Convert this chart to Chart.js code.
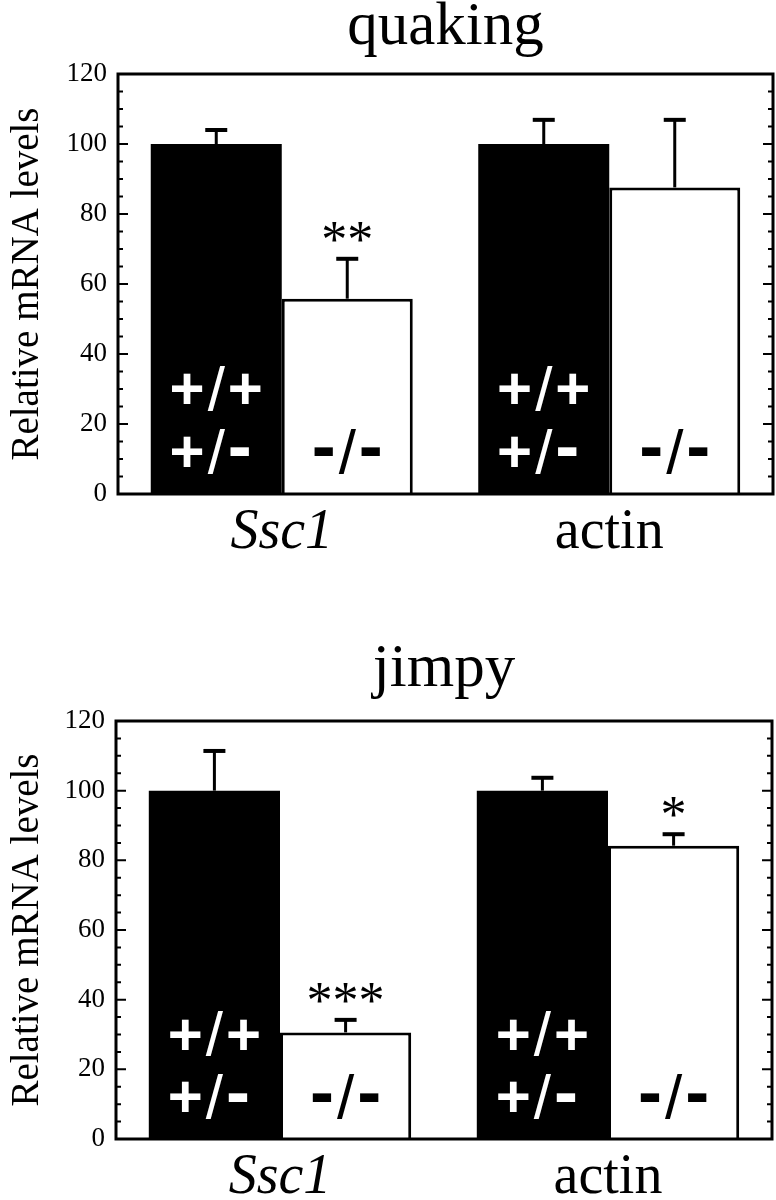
<!DOCTYPE html>
<html>
<head>
<meta charset="utf-8">
<script src="https://cdn.jsdelivr.net/npm/chart.js@4.4.1/dist/chart.umd.min.js"></script>
<style>
  html, body { margin: 0; padding: 0; background: #fff; }
  .panel { position: absolute; left: 0; width: 776px; height: 600px; }
</style>
</head>
<body>
<div class="panel" style="top:0"><canvas id="quaking" width="776" height="600"></canvas></div>
<div class="panel" style="top:600px"><canvas id="jimpy" width="776" height="600"></canvas></div>
<script>
const categories = ['Ssc1', 'actin'];

// quaking panel
const quakingWT = [100, 100];
const quakingWTErr = [4.0, 6.9];
const quakingKO = [55.8, 87.6];
const quakingKOErr = [11.4, 19.3];
const quakingStars = ['**', ''];

// jimpy panel
const jimpyWT = [100, 100];
const jimpyWTErr = [11.4, 3.7];
const jimpyKO = [30.6, 84.2];
const jimpyKOErr = [3.6, 3.3];
const jimpyStars = ['***', '*'];

const wtGenotypes = ['+/+', '+/-'];
const koGenotypes = ['-/-'];

const yMin = 0, yMax = 120, yStep = 20, yMinorStep = 5;

const serif = '"Liberation Serif", "Times New Roman", serif';
const sans = '"Liberation Sans", Arial, sans-serif';

// "+/-" style text: bold signs, thin slash, chunky dash
function glyphFont(ch) {
  if (ch === '/') return '62px ' + sans;
  if (ch === '-') return 'bold 72px ' + sans;
  return 'bold 60px ' + sans;
}
function genotypeWidth(ctx, text) {
  let w = 0;
  for (const ch of text) {
    ctx.font = glyphFont(ch);
    w += ctx.measureText(ch).width + 3;
  }
  return w - 3;
}
function drawGenotype(ctx, text, x, yMid, color) {
  ctx.fillStyle = color;
  ctx.textAlign = 'left';
  ctx.textBaseline = 'middle';
  for (const ch of text) {
    ctx.font = glyphFont(ch);
    const dy = ch === '-' ? -5 : 0;
    ctx.fillText(ch, x, yMid + dy);
    x += ctx.measureText(ch).width + 3;
  }
}

const figurePlugin = {
  id: 'figure',
  afterDatasetsDraw(chart, args, opts) {
    const ctx = chart.ctx;
    const y = chart.scales.y;
    ctx.save();
    ctx.strokeStyle = '#000';
    // error bars (upper only)
    chart.data.datasets.forEach((ds, i) => {
      chart.getDatasetMeta(i).data.forEach((bar, j) => {
        const top = y.getPixelForValue(ds.data[j] + ds.errors[j]);
        ctx.lineWidth = 3;
        ctx.beginPath(); ctx.moveTo(bar.x, bar.y); ctx.lineTo(bar.x, top); ctx.stroke();
        ctx.lineWidth = 4;
        ctx.beginPath(); ctx.moveTo(bar.x - 11, top); ctx.lineTo(bar.x + 11, top); ctx.stroke();
      });
    });
    // significance stars
    const ko = chart.data.datasets[1];
    ctx.font = '52px ' + serif;
    ctx.textAlign = 'center';
    ctx.textBaseline = 'alphabetic';
    ctx.fillStyle = '#000';
    chart.getDatasetMeta(1).data.forEach((bar, j) => {
      const s = opts.stars[j];
      if (!s) return;
      const top = y.getPixelForValue(ko.data[j] + ko.errors[j]);
      const m = ctx.measureText(s);
      const cy = top - 27;
      ctx.fillText(s, bar.x, cy + (m.actualBoundingBoxAscent - m.actualBoundingBoxDescent) / 2);
    });
    // genotype labels inside the bars
    const row1 = y.getPixelForValue(29), row2 = y.getPixelForValue(11);
    chart.getDatasetMeta(0).data.forEach((bar) => {
      const x0 = bar.x - genotypeWidth(ctx, wtGenotypes[0]) / 2;
      drawGenotype(ctx, wtGenotypes[0], x0, row1, '#fff');
      drawGenotype(ctx, wtGenotypes[1], x0, row2, '#fff');
    });
    chart.getDatasetMeta(1).data.forEach((bar) => {
      const x0 = bar.x - genotypeWidth(ctx, koGenotypes[0]) / 2;
      drawGenotype(ctx, koGenotypes[0], x0, row2, '#000');
    });
    ctx.restore();
  },
  afterDraw(chart) {
    const ctx = chart.ctx;
    const a = chart.chartArea;
    const y = chart.scales.y;
    ctx.save();
    ctx.strokeStyle = '#000';
    ctx.lineWidth = 3;
    ctx.strokeRect(a.left, a.top, a.right - a.left, a.bottom - a.top);
    ctx.lineWidth = 2;
    for (let v = yMin; v <= yMax; v += yMinorStep) {
      const py = y.getPixelForValue(v);
      const len = v % yStep === 0 ? 10 : 5;
      ctx.beginPath();
      ctx.moveTo(a.left, py); ctx.lineTo(a.left + len, py);
      ctx.moveTo(a.right, py); ctx.lineTo(a.right - len, py);
      ctx.stroke();
    }
    ctx.restore();
  }
};

function makeChart(id, title, wt, wtErr, ko, koErr, stars, g) {
  return new Chart(document.getElementById(id), {
    type: 'bar',
    data: {
      labels: categories,
      datasets: [
        { data: wt, errors: wtErr, backgroundColor: '#000', borderWidth: 0 },
        { data: ko, errors: koErr, backgroundColor: '#fff', borderColor: '#000', borderWidth: 3 }
      ]
    },
    options: {
      responsive: false,
      animation: false,
      devicePixelRatio: 1,
      layout: { padding: { left: 0, right: g.right, top: 0, bottom: 0 } },
      datasets: { bar: { categoryPercentage: 0.8, barPercentage: 1.0 } },
      plugins: {
        legend: { display: false },
        tooltip: { enabled: false },
        title: {
          display: true,
          text: title,
          fullSize: false,
          color: '#000',
          font: { family: serif, size: 61, weight: 'normal', lineHeight: 0.8 },
          padding: { top: g.titleTop, bottom: g.titleBottom }
        },
        figure: { stars: stars }
      },
      scales: {
        x: {
          grid: { display: false, drawTicks: false },
          border: { display: false },
          ticks: {
            color: '#000',
            padding: 6,
            font: (c) => ({ family: serif, size: 56, style: c.index === 0 ? 'italic' : 'normal' })
          },
          afterFit: (s) => { s.height = g.xHeight; }
        },
        y: {
          min: yMin,
          max: yMax,
          grid: { display: false, drawTicks: false },
          border: { display: false },
          ticks: { stepSize: yStep, color: '#000', padding: 11, font: { family: serif, size: 27 } },
          title: {
            display: true,
            text: 'Relative mRNA levels',
            color: '#000',
            font: { family: serif, size: 39, lineHeight: 1 },
            padding: { top: 8, bottom: 0 }
          },
          afterFit: (s) => { s.width = g.left; }
        }
      }
    },
    plugins: [figurePlugin]
  });
}

makeChart('quaking', 'quaking', quakingWT, quakingWTErr, quakingKO, quakingKOErr, quakingStars,
  { left: 118, right: 3, xHeight: 106, titleTop: 4, titleBottom: 21.2 });
makeChart('jimpy', 'jimpy', jimpyWT, jimpyWTErr, jimpyKO, jimpyKOErr, jimpyStars,
  { left: 116, right: 4, xHeight: 61, titleTop: 46, titleBottom: 26.2 });
</script>
</body>
</html>
